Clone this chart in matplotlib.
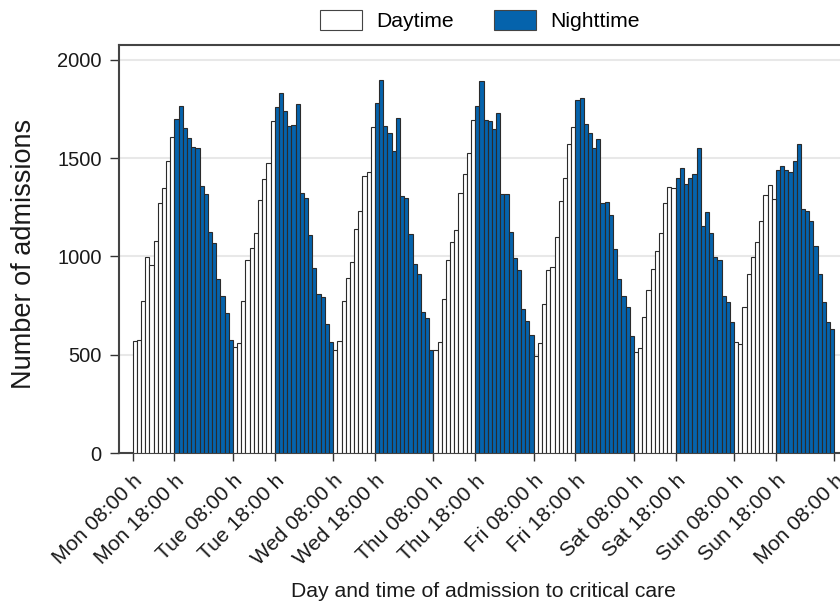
import matplotlib
matplotlib.use("Agg")
import matplotlib.pyplot as plt
from matplotlib.patches import Patch
import numpy as np

plt.rcParams['font.family'] = ['Liberation Sans', 'DejaVu Sans']

# Hourly admissions starting Monday 08:00 (168 hours)
mon = [568, 575, 771, 995, 956, 1081, 1270, 1351, 1485, 1610,
       1698, 1765, 1656, 1602, 1559, 1551, 1361, 1317, 1125, 1071, 888, 797, 712, 575]
tue = [539, 559, 775, 980, 1042, 1119, 1288, 1393, 1478, 1690,
       1759, 1831, 1742, 1664, 1670, 1776, 1325, 1300, 1108, 939, 810, 793, 654, 566]
wed = [525, 568, 771, 892, 973, 1139, 1229, 1410, 1431, 1661,
       1783, 1898, 1664, 1631, 1537, 1705, 1309, 1297, 1112, 961, 912, 719, 687, 522]
thu = [522, 563, 783, 983, 1073, 1136, 1325, 1420, 1526, 1693,
       1766, 1892, 1693, 1688, 1648, 1729, 1320, 1320, 1127, 990, 929, 732, 673, 598]
fri = [492, 558, 759, 929, 946, 1098, 1280, 1397, 1571, 1658,
       1797, 1809, 1675, 1626, 1554, 1598, 1271, 1276, 1212, 1039, 888, 800, 742, 597]
sat = [514, 532, 690, 832, 937, 1027, 1120, 1271, 1354, 1348,
       1402, 1449, 1368, 1400, 1419, 1553, 1153, 1225, 1120, 997, 983, 798, 766, 668]
sun = [564, 556, 742, 912, 998, 1076, 1180, 1314, 1364, 1293,
       1442, 1463, 1439, 1429, 1485, 1575, 1241, 1232, 1183, 1054, 910, 770, 666, 632]

days = ['Mon', 'Tue', 'Wed', 'Thu', 'Fri', 'Sat', 'Sun']
day_hours = 10    # 08:00-18:00 daytime
night_hours = 14  # 18:00-08:00 nighttime

values = np.array(mon + tue + wed + thu + fri + sat + sun)
is_day = np.array(([True] * day_hours + [False] * night_hours) * 7)

tick_labels = []
for d in days:
    tick_labels += [f'{d} 08:00 h', f'{d} 18:00 h']
tick_labels.append('Mon 08:00 h')

blue = '#0563AC'
edge = '#2b2b2b'
txt = '#1a1a1a'

fig = plt.figure(figsize=(8.4, 6.02), dpi=100)
ax = fig.add_axes([0.1417, 0.2475, 0.8583, 0.677])

x = np.arange(len(values))
colors = [('white' if d else blue) for d in is_day]
ax.bar(x, values, width=1.0, align='edge', color=colors,
       edgecolor=edge, linewidth=0.8, zorder=3)

tick_pos = []
for i in range(7):
    tick_pos += [i * 24, i * 24 + day_hours]
tick_pos.append(168)
ax.set_xticks(tick_pos)
ax.set_xticklabels(tick_labels, rotation=45, ha='right', va='top',
                   rotation_mode='anchor', fontsize=15.2, color=txt)
ax.set_xlim(-3.28, 169.36)
ax.set_ylim(0, 2074)
ax.set_yticks([0, 500, 1000, 1500, 2000])
ax.tick_params(axis='y', labelsize=14.5, length=6.5, width=1, color='#333333',
               labelcolor=txt, pad=6)
ax.tick_params(axis='x', length=6, width=1, color='#333333', pad=7)
ax.yaxis.grid(True, color='#e8e8e8', linewidth=1.5, zorder=0)
ax.set_axisbelow(True)

for s in ['left', 'top', 'bottom']:
    ax.spines[s].set_color('#444444')
    ax.spines[s].set_linewidth(1.5)
ax.spines['right'].set_visible(False)

fig.text(0.0286, 0.579, 'Number of admissions', rotation=90, fontsize=19.5,
         color=txt, ha='center', va='center')
fig.text(0.5756, 0.018, 'Day and time of admission to critical care', fontsize=15.2,
         color=txt, ha='center', va='center')

handles = [Patch(facecolor='white', edgecolor='#444444', linewidth=0.8, label='Daytime'),
           Patch(facecolor=blue, edgecolor='#444444', linewidth=0.8, label='Nighttime')]
fig.legend(handles=handles, loc='center', bbox_to_anchor=(0.571, 0.966), ncol=2,
           frameon=False, fontsize=15.2, handlelength=2.0, handleheight=1.1,
           columnspacing=1.9, handletextpad=0.67)

fig.savefig('out.png', dpi=100)
